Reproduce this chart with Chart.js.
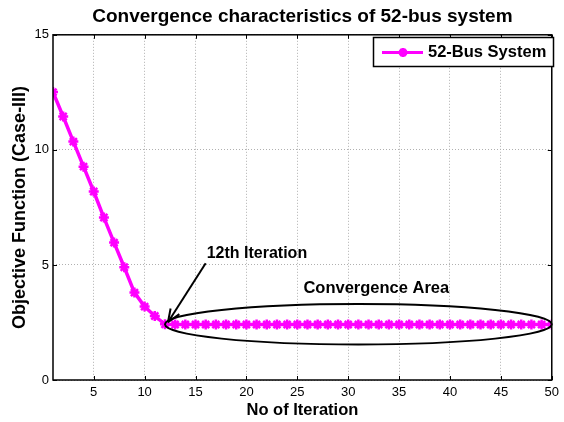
<!DOCTYPE html>
<html>
<head>
<meta charset="UTF-8">
<title>Convergence characteristics</title>
<script src="https://cdn.jsdelivr.net/npm/chart.js"></script>
<style>
  body { margin: 0; background: #fff; }
  .wrap { position: relative; width: 564px; height: 422px; }
</style>
</head>
<body>
<div class="wrap"><canvas id="conv" width="564" height="422"></canvas></div>
<script>
// objective function value per iteration
const iterations = Array.from({ length: 50 }, (_, i) => i + 1);
const objective = [
  12.51, 11.45, 10.36, 9.27, 8.19, 7.06, 5.97, 4.90, 3.80, 3.19, 2.78, 2.42,
  2.41, 2.41, 2.41, 2.41, 2.41, 2.41, 2.41, 2.41, 2.41, 2.41, 2.41, 2.41, 2.41,
  2.41, 2.41, 2.41, 2.41, 2.41, 2.41, 2.41, 2.41, 2.41, 2.41, 2.41, 2.41, 2.41,
  2.41, 2.41, 2.41, 2.41, 2.41, 2.41, 2.41, 2.41, 2.41, 2.41, 2.41, 2.41
];
const xTicks = [5, 10, 15, 20, 25, 30, 35, 40, 45, 50];
const yTicks = [0, 5, 10, 15];
const seriesName = '52-Bus System';
const convergedAt = 12;

const FONT = 'Arial, "Liberation Sans", sans-serif';
const MAGENTA = '#ff00ff';

// frame ticks, legend and the arrow/ellipse notes
const extras = {
  id: 'extras',
  afterDatasetsDraw(chart) {
    const { ctx, chartArea: a, scales: { x, y } } = chart;
    ctx.save();

    // inward tick marks on all four sides
    ctx.strokeStyle = '#000';
    ctx.lineWidth = 1;
    ctx.beginPath();
    xTicks.forEach(v => {
      const px = Math.round(x.getPixelForValue(v)) + 0.5;
      ctx.moveTo(px, a.bottom); ctx.lineTo(px, a.bottom - 4);
      ctx.moveTo(px, a.top); ctx.lineTo(px, a.top + 4);
    });
    yTicks.forEach(v => {
      const py = Math.round(y.getPixelForValue(v)) + 0.5;
      ctx.moveTo(a.left, py); ctx.lineTo(a.left + 4, py);
      ctx.moveTo(a.right, py); ctx.lineTo(a.right - 4, py);
    });
    ctx.stroke();
    ctx.lineWidth = 1.5;
    ctx.strokeRect(a.left, a.top, a.right - a.left, a.bottom - a.top);

    // ellipse round the flat part of the curve
    const yc = y.getPixelForValue(objective[convergedAt - 1]);
    const x0 = x.getPixelForValue(convergedAt);
    const x1 = x.getPixelForValue(50);
    const ry = y.getPixelForValue(0) - y.getPixelForValue(0.88);
    ctx.lineWidth = 2;
    ctx.beginPath();
    ctx.ellipse((x0 + x1) / 2, yc, (x1 - x0) / 2, ry, 0, 0, Math.PI * 2);
    ctx.stroke();

    // arrow to the 12th iteration
    const hx = x0 + 3, hy = yc - 2;
    const tx = x.getPixelForValue(16), ty = y.getPixelForValue(5.07);
    const ang = Math.atan2(hy - ty, hx - tx);
    ctx.lineWidth = 2;
    ctx.beginPath();
    ctx.moveTo(tx, ty); ctx.lineTo(hx, hy);
    ctx.stroke();
    ctx.beginPath();
    ctx.moveTo(hx, hy);
    ctx.lineTo(hx - 14 * Math.cos(ang - 0.38), hy - 14 * Math.sin(ang - 0.38));
    ctx.moveTo(hx, hy);
    ctx.lineTo(hx - 14 * Math.cos(ang + 0.38), hy - 14 * Math.sin(ang + 0.38));
    ctx.stroke();

    ctx.fillStyle = '#000';
    ctx.textBaseline = 'middle';
    ctx.textAlign = 'left';
    ctx.font = 'bold 16px ' + FONT;
    ctx.fillText('12th Iteration', x.getPixelForValue(16.1), y.getPixelForValue(5.5));
    ctx.font = 'bold 16.5px ' + FONT;
    ctx.fillText('Convergence Area', x.getPixelForValue(25.6), y.getPixelForValue(3.96));

    // legend
    const lx = 373, ly = 37, lw = 180, lh = 29;
    ctx.fillStyle = '#fff';
    ctx.fillRect(lx, ly, lw, lh);
    ctx.lineWidth = 1.5;
    ctx.strokeStyle = '#000';
    ctx.strokeRect(lx + 0.5, ly + 0.5, lw, lh);
    const my = ly + lh / 2 + 1;
    ctx.strokeStyle = MAGENTA;
    ctx.lineWidth = 3;
    ctx.beginPath();
    ctx.moveTo(lx + 9, my); ctx.lineTo(lx + 50, my);
    ctx.stroke();
    ctx.fillStyle = MAGENTA;
    Chart.helpers.drawPoint(ctx, { pointStyle: 'star', radius: 4.5, borderWidth: 2.5 }, lx + 30, my);
    ctx.fillStyle = '#000';
    ctx.font = 'bold 16.5px ' + FONT;
    ctx.fillText(seriesName, lx + 55, my);
    ctx.restore();
  }
};

new Chart(document.getElementById('conv'), {
  type: 'line',
  data: {
    labels: iterations,
    datasets: [{
      label: seriesName,
      data: iterations.map((v, i) => ({ x: v, y: objective[i] })),
      borderColor: MAGENTA,
      backgroundColor: MAGENTA,
      borderWidth: 3.5,
      pointStyle: 'star',
      pointRadius: 5,
      pointBorderWidth: 2.5,
      tension: 0
    }]
  },
  options: {
    responsive: false,
    animation: false,
    layout: { padding: { left: 0, right: 9, top: 0, bottom: 0 } },
    plugins: {
      legend: { display: false },
      tooltip: { enabled: false },
      title: {
        display: true,
        fullSize: false,
        text: 'Convergence characteristics of 52-bus system',
        color: '#000',
        font: { family: FONT, size: 19, weight: 'bold' },
        padding: { top: 5, bottom: 7 }
      }
    },
    scales: {
      x: {
        type: 'linear',
        min: 1,
        max: 50,
        afterBuildTicks: s => { s.ticks = xTicks.map(v => ({ value: v })); },
        afterFit: s => { s.height = 42; },
        grid: { color: '#b0b0b0', lineWidth: 1, drawTicks: false },
        border: { display: false, dash: [1, 2] },
        ticks: { color: '#000', font: { family: FONT, size: 13 }, padding: 5 },
        title: {
          display: true,
          text: 'No of Iteration',
          color: '#000',
          font: { family: FONT, size: 16.5, weight: 'bold' },
          padding: { top: 0, bottom: 2 }
        }
      },
      y: {
        min: 0,
        max: 15,
        afterBuildTicks: s => { s.ticks = yTicks.map(v => ({ value: v })); },
        afterFit: s => { s.width = 53; },
        grid: { color: '#b0b0b0', lineWidth: 1, drawTicks: false },
        border: { display: false, dash: [1, 2] },
        ticks: { color: '#000', font: { family: FONT, size: 13 }, padding: 4 },
        title: {
          display: true,
          text: 'Objective Function (Case-III)',
          color: '#000',
          font: { family: FONT, size: 18, weight: 'bold' },
          padding: { top: 9, bottom: 0 }
        }
      }
    }
  },
  plugins: [extras]
});
</script>
</body>
</html>
